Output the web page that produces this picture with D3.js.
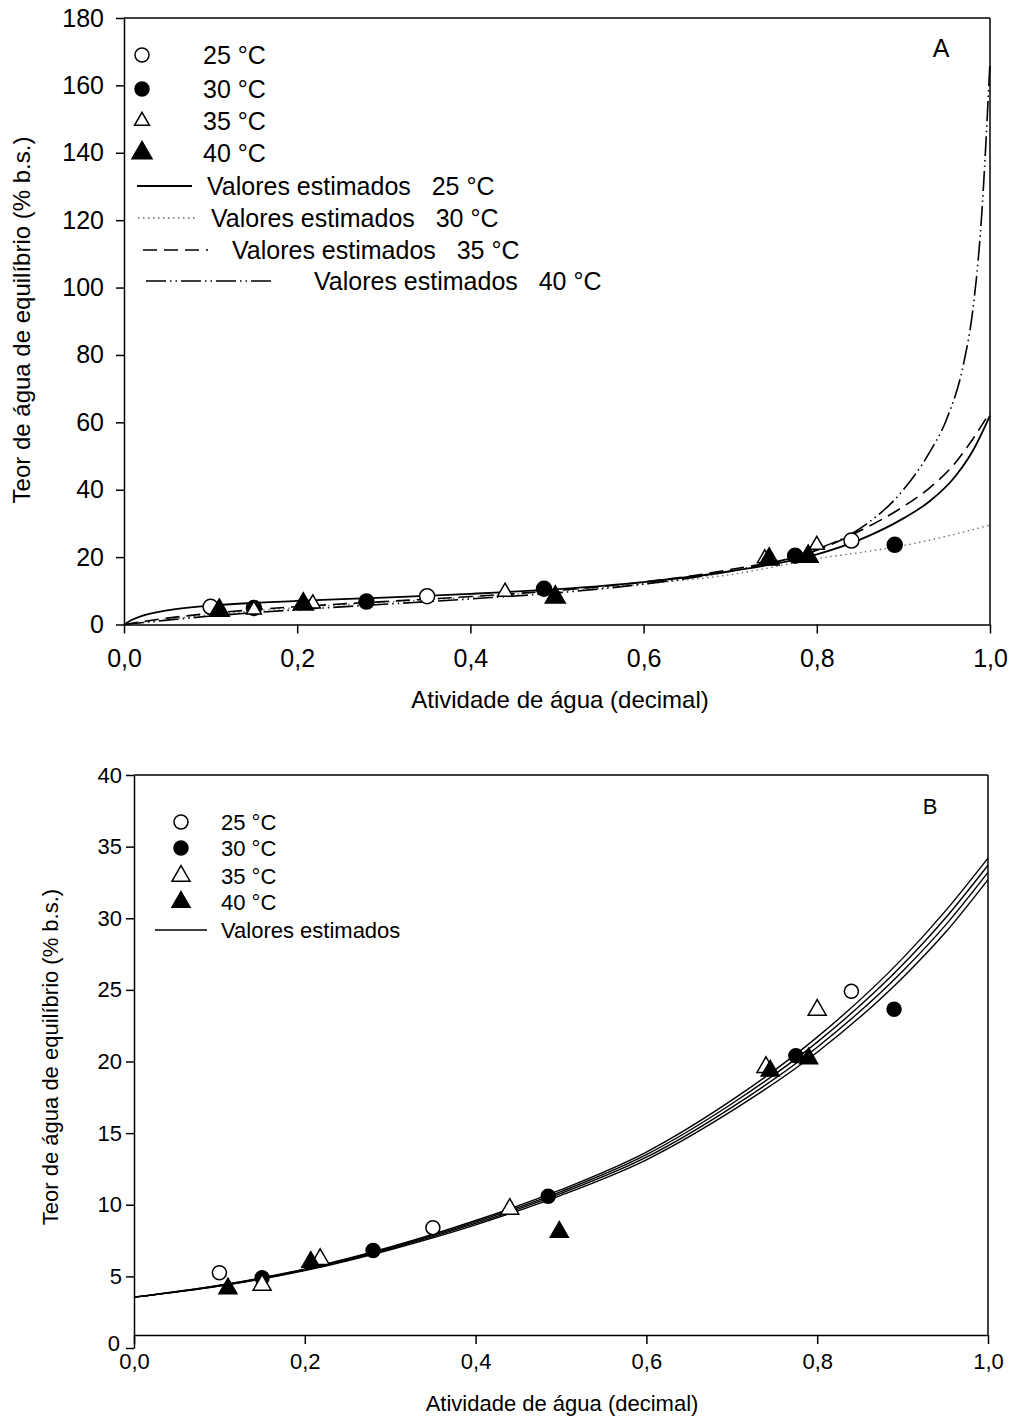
<!DOCTYPE html>
<html>
<head>
<meta charset="utf-8">
<script src="https://cdn.jsdelivr.net/npm/d3@7"></script>
<style>
  body { margin: 0; background: #fff; }
  text { font-family: "Liberation Sans", Arial, sans-serif; fill: #000; }
</style>
</head>
<body>
<svg id="chart" width="1014" height="1416"></svg>
<script>
// measured points: [water activity, moisture content % d.b.]
var obs25 = [[0.10, 5.25], [0.35, 8.4], [0.84, 24.9]];
var obs30 = [[0.15, 4.9], [0.28, 6.8], [0.485, 10.6], [0.775, 20.4], [0.89, 23.65]];
var obs35 = [[0.15, 4.4], [0.218, 6.2], [0.44, 9.7], [0.74, 19.6], [0.80, 23.6]];
var obs40 = [[0.11, 4.15], [0.207, 6.0], [0.498, 8.1], [0.745, 19.35], [0.79, 20.2]];

// fitted curves, panel A
var fitA25 = [[0,0],[0.01,1.5],[0.02,2.5],[0.05,4.2],[0.1,5.6],[0.2,7.0],[0.3,8.0],[0.4,9.1],[0.5,10.5],[0.6,12.6],[0.7,15.8],[0.8,20.8],[0.85,25.2],[0.9,31.5],[0.93,36.5],[0.96,44],[0.98,51.5],[1.0,62]];
var fitA30 = [[0,0],[0.05,1.5],[0.1,2.9],[0.2,5.0],[0.3,6.6],[0.4,8.1],[0.5,9.9],[0.6,12.0],[0.7,14.8],[0.8,19.5],[0.9,23.4],[0.95,26.2],[1.0,29.5]];
var fitA35 = [[0,0],[0.02,0.8],[0.05,1.9],[0.1,3.3],[0.2,5.3],[0.3,6.8],[0.4,8.3],[0.5,10.1],[0.6,12.6],[0.7,16.3],[0.8,22.0],[0.85,27.8],[0.9,35.0],[0.93,40.5],[0.96,48],[0.98,55],[1.0,63]];
var fitA40 = [[0,0],[0.05,1.3],[0.1,2.5],[0.2,4.4],[0.3,6.0],[0.4,7.6],[0.5,9.4],[0.6,12.0],[0.7,15.8],[0.8,22.3],[0.85,28.5],[0.9,40],[0.93,51],[0.95,61],[0.97,78],[0.98,93],[0.99,120],[1.0,167]];

// fitted curves, panel B (four near-parallel lines)
var fitBaw = [0, 0.1, 0.2, 0.3, 0.4, 0.5, 0.6, 0.7, 0.8, 0.9, 0.95, 1.0];
var fitB1 = [3.55, 4.38, 5.52, 7.05, 8.90, 11.05, 13.68, 17.30, 21.70, 27.20, 30.5, 34.2];
var fitB2 = [3.55, 4.36, 5.48, 6.98, 8.80, 10.92, 13.50, 17.05, 21.35, 26.75, 30.0, 33.7];
var fitB3 = [3.55, 4.34, 5.44, 6.92, 8.70, 10.79, 13.32, 16.80, 21.00, 26.30, 29.5, 33.2];
var fitB4 = [3.55, 4.32, 5.40, 6.86, 8.60, 10.66, 13.14, 16.55, 20.65, 25.85, 29.0, 32.7];

var xTicks = [0, 0.2, 0.4, 0.6, 0.8, 1.0];
var yTicksA = d3.range(0, 181, 20);
var yTicksB = d3.range(0, 41, 5);
var tempLabels = ["25 °C", "30 °C", "35 °C", "40 °C"];

var svg = d3.select("#chart");
var fmtX = function(d){ return d3.format(".1f")(d).replace(".", ","); };

function markerStyle(sel, kind, rc, tOpen, tFill){
    // kind: 0 open circle, 1 filled circle, 2 open triangle, 3 filled triangle
    sel.attr("d", function(){
            if (kind < 2) return d3.symbol().type(d3.symbolCircle).size(Math.PI * rc * rc)();
            var w = kind === 2 ? tOpen : tFill;
            return d3.symbol().type(d3.symbolTriangle).size(Math.sqrt(3) / 4 * w * w)();
        })
        .attr("fill", (kind === 1 || kind === 3) ? "#000" : "#fff")
        .attr("stroke", "#000")
        .attr("stroke-width", 1.5);
}

function frame(g, x, y, yTicks, xAxisY, fs, padX, padY){
    var x0 = x.range()[0], x1 = x.range()[1];
    var yTop = y.range()[1];
    g.append("line").attr("x1", x0).attr("x2", x1).attr("y1", yTop).attr("y2", yTop)
        .attr("stroke", "#000").attr("stroke-width", 1.5);
    g.append("line").attr("x1", x1).attr("x2", x1).attr("y1", yTop).attr("y2", xAxisY)
        .attr("stroke", "#000").attr("stroke-width", 1.5);

    var ax = g.append("g").attr("transform", "translate(0," + xAxisY + ")")
        .call(d3.axisBottom(x).tickValues(xTicks).tickFormat(fmtX).tickSize(9).tickSizeOuter(0).tickPadding(padX));
    var ay = g.append("g").attr("transform", "translate(" + x0 + ",0)")
        .call(d3.axisLeft(y).tickValues(yTicks).tickSize(8).tickSizeOuter(0).tickPadding(padY));
    [ax, ay].forEach(function(a){
        a.selectAll("path, line").attr("stroke", "#000").attr("stroke-width", 1.5);
        a.selectAll("text").attr("font-size", fs).attr("fill", "#000")
            .attr("font-family", "'Liberation Sans', Arial, sans-serif");
    });
    return ay;
}

// ---------------- panel A ----------------
var xA = d3.scaleLinear().domain([0, 1]).range([124, 990]);
var yA = d3.scaleLinear().domain([0, 180]).range([624.5, 18]);
var gA = svg.append("g");

frame(gA, xA, yA, yTicksA, 624.5, 25, 16, 12);

var lineA = d3.line().x(function(d){ return xA(d[0]); }).y(function(d){ return yA(d[1]); })
    .curve(d3.curveMonotoneX);

var stylesA = [
    { data: fitA25, dash: null, w: 1.8, c: "#000" },
    { data: fitA30, dash: "1.5,3.5", w: 1.3, c: "#666" },
    { data: fitA35, dash: "14,7", w: 1.6, c: "#000" },
    { data: fitA40, dash: "20,4,1.5,4,1.5,4", w: 1.6, c: "#000" }
];
stylesA.forEach(function(s){
    gA.append("path").attr("d", lineA(s.data)).attr("fill", "none")
        .attr("stroke", s.c).attr("stroke-width", s.w)
        .attr("stroke-dasharray", s.dash);
});

[obs25, obs30, obs35, obs40].forEach(function(set, k){
    gA.selectAll(".ptA" + k).data(set).enter().append("path")
        .attr("class", "ptA" + k)
        .attr("transform", function(d){ return "translate(" + xA(d[0]) + "," + yA(d[1]) + ")"; })
        .call(markerStyle, k, 7.5, 15, 20);
});

// legend A
var legYA = [55, 89, 121, 153];
tempLabels.forEach(function(t, k){
    gA.append("path").attr("transform", "translate(142," + legYA[k] + ")").call(markerStyle, k, 7, 15, 20);
    gA.append("text").attr("x", 203).attr("y", legYA[k]).attr("dy", "0.35em")
        .attr("font-size", 25).text(t);
});
var legLinesA = [
    { y: 186, x1: 137, x2: 192, tx: 207 },
    { y: 218, x1: 138, x2: 195, tx: 211 },
    { y: 250, x1: 143, x2: 208, tx: 232 },
    { y: 281, x1: 146, x2: 275, tx: 314 }
];
legLinesA.forEach(function(l, k){
    var s = stylesA[k];
    gA.append("line").attr("x1", l.x1).attr("x2", l.x2).attr("y1", l.y).attr("y2", l.y)
        .attr("stroke", s.c).attr("stroke-width", s.w).attr("stroke-dasharray", s.dash);
    gA.append("text").attr("x", l.tx).attr("y", l.y).attr("dy", "0.35em")
        .attr("font-size", 25).attr("xml:space", "preserve").style("white-space", "pre")
        .text("Valores estimados   " + tempLabels[k]);
});
gA.append("text").attr("x", 941).attr("y", 48).attr("dy", "0.35em").attr("text-anchor", "middle")
    .attr("font-size", 25).text("A");
gA.append("text").attr("x", 560).attr("y", 700).attr("dy", "0.35em").attr("text-anchor", "middle")
    .attr("font-size", 24).text("Atividade de água (decimal)");
gA.append("text").attr("transform", "translate(22,320) rotate(-90)").attr("dy", "0.35em")
    .attr("text-anchor", "middle").attr("font-size", 24).text("Teor de água de equilíbrio (% b.s.)");

// ---------------- panel B ----------------
var xB = d3.scaleLinear().domain([0, 1]).range([134, 988]);
var yB = d3.scaleLinear().domain([0, 40]).range([1348, 775]);
var gB = svg.append("g");

var ayB = frame(gB, xB, yB, yTicksB, 1335, 22, 9, 4);
// the zero label sits up-left of "0,0" as in the original
ayB.selectAll(".tick").filter(function(d){ return d === 0; }).select("text")
    .attr("dy", "0.1em").attr("dx", "-2");

var lineB = d3.line().x(function(d, i){ return xB(fitBaw[i]); }).y(function(d){ return yB(d); })
    .curve(d3.curveMonotoneX);
[fitB1, fitB2, fitB3, fitB4].forEach(function(f){
    gB.append("path").attr("d", lineB(f)).attr("fill", "none")
        .attr("stroke", "#000").attr("stroke-width", 1.4);
});

[obs25, obs30, obs35, obs40].forEach(function(set, k){
    gB.selectAll(".ptB" + k).data(set).enter().append("path")
        .attr("class", "ptB" + k)
        .attr("transform", function(d){ return "translate(" + xB(d[0]) + "," + yB(d[1]) + ")"; })
        .call(markerStyle, k, 7, 18, 18);
});

var legYB = [822, 848, 876, 902];
tempLabels.forEach(function(t, k){
    gB.append("path").attr("transform", "translate(181," + legYB[k] + ")").call(markerStyle, k, 7, 18, 18);
    gB.append("text").attr("x", 221).attr("y", legYB[k]).attr("dy", "0.35em")
        .attr("font-size", 22).text(t);
});
gB.append("line").attr("x1", 155).attr("x2", 207).attr("y1", 930).attr("y2", 930)
    .attr("stroke", "#000").attr("stroke-width", 1.5);
gB.append("text").attr("x", 221).attr("y", 930).attr("dy", "0.35em")
    .attr("font-size", 22).text("Valores estimados");
gB.append("text").attr("x", 930).attr("y", 806).attr("dy", "0.35em").attr("text-anchor", "middle")
    .attr("font-size", 22).text("B");
gB.append("text").attr("x", 562).attr("y", 1403).attr("dy", "0.35em").attr("text-anchor", "middle")
    .attr("font-size", 22).text("Atividade de água (decimal)");
gB.append("text").attr("transform", "translate(50,1057) rotate(-90)").attr("dy", "0.35em")
    .attr("text-anchor", "middle").attr("font-size", 22).text("Teor de água de equilíbrio (% b.s.)");
</script>
</body>
</html>
